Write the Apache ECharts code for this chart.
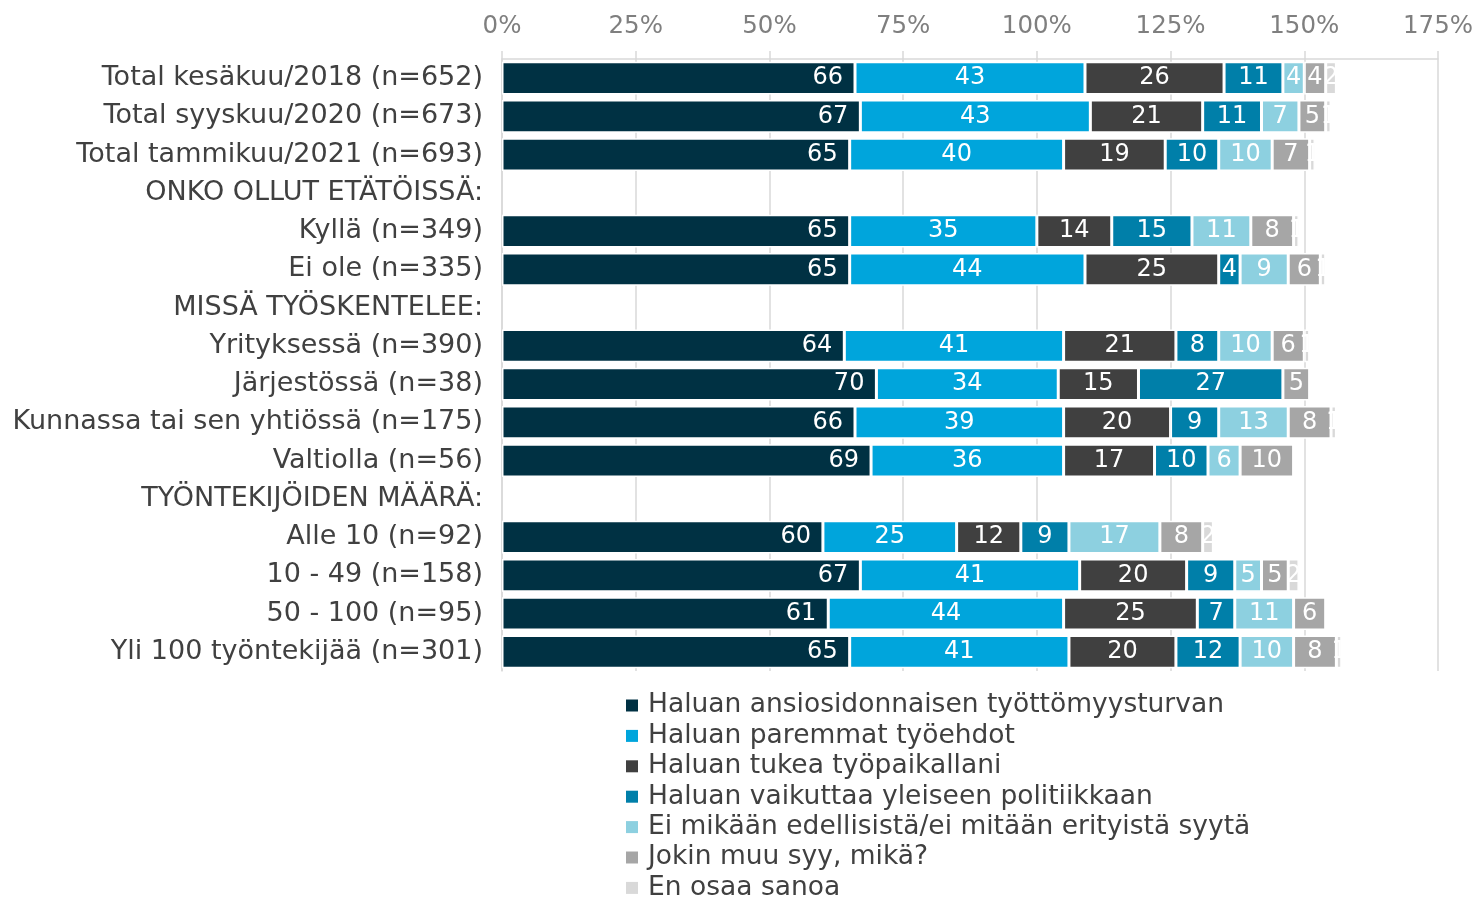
<!DOCTYPE html>
<html lang="fi">
<head>
<meta charset="utf-8">
<title>Syyt liittoon kuulumiseen</title>
<script src="https://cdn.jsdelivr.net/npm/echarts@6/dist/echarts.min.js"></script>
<style>
  html, body { margin: 0; padding: 0; background: #fff; }
  #main { width: 1478px; height: 897px; }
</style>
</head>
<body>
<div id="main"></div>
<script>
// rivit (otsikkorivit ilman arvoja)
var categories = [
  'Total kesäkuu/2018 (n=652)',
  'Total syyskuu/2020 (n=673)',
  'Total tammikuu/2021 (n=693)',
  'ONKO OLLUT ETÄTÖISSÄ:',
  'Kyllä (n=349)',
  'Ei ole (n=335)',
  'MISSÄ TYÖSKENTELEE:',
  'Yrityksessä (n=390)',
  'Järjestössä (n=38)',
  'Kunnassa tai sen yhtiössä (n=175)',
  'Valtiolla (n=56)',
  'TYÖNTEKIJÖIDEN MÄÄRÄ:',
  'Alle 10 (n=92)',
  '10 - 49 (n=158)',
  '50 - 100 (n=95)',
  'Yli 100 työntekijää (n=301)'
];

var seriesNames = [
  'Haluan ansiosidonnaisen työttömyysturvan',
  'Haluan paremmat työehdot',
  'Haluan tukea työpaikallani',
  'Haluan vaikuttaa yleiseen politiikkaan',
  'Ei mikään edellisistä/ei mitään erityistä syytä',
  'Jokin muu syy, mikä?',
  'En osaa sanoa'
];

var colors = ['#003143', '#00a5dc', '#404040', '#007fa9', '#8dd0e0', '#a6a6a6', '#d9d9d9'];

var ansiosidonnainen = [66, 67, 65, null, 65, 65, null, 64, 70, 66, 69, null, 60, 67, 61, 65];
var tyoehdot         = [43, 43, 40, null, 35, 44, null, 41, 34, 39, 36, null, 25, 41, 44, 41];
var tukea            = [26, 21, 19, null, 14, 25, null, 21, 15, 20, 17, null, 12, 20, 25, 20];
var politiikka       = [11, 11, 10, null, 15, 4, null, 8, 27, 9, 10, null, 9, 9, 7, 12];
var eiMikaan         = [4, 7, 10, null, 11, 9, null, 10, null, 13, 6, null, 17, 5, 11, 10];
var muuSyy           = [4, 5, 7, null, 8, 6, null, 6, 5, 8, 10, null, 8, 5, 6, 8];
var eos              = [2, 1, 1, null, 1, 1, null, 1, null, 1, null, null, 2, 2, null, 1];

var values = [ansiosidonnainen, tyoehdot, tukea, politiikka, eiMikaan, muuSyy, eos];

var font = 'DejaVu Sans, Verdana, sans-serif';

var series = seriesNames.map(function (name, i) {
  return {
    name: name,
    type: 'bar',
    stack: 'total',
    barCategoryGap: '14%',
    data: values[i],
    itemStyle: { color: colors[i], borderColor: '#fff', borderWidth: 1.5 },
    label: {
      show: true,
      position: i === 0 ? 'insideRight' : 'inside',
      distance: 12,
      color: '#fff',
      fontFamily: font,
      fontSize: 24
    },
    emphasis: { disabled: true }
  };
});

var myChart = echarts.init(document.getElementById('main'));
var option = {
  animation: false,
  textStyle: { fontFamily: font },
  grid: { left: 502, right: 40, top: 59, bottom: 226, containLabel: false },
  legend: {
    orient: 'vertical',
    left: 621,
    top: 687,
    height: 260,
    icon: 'rect',
    itemWidth: 12,
    itemHeight: 12,
    itemGap: 3.4,
    selectedMode: false,
    itemStyle: { borderWidth: 0 },
    textStyle: { color: '#404040', fontSize: 26.5, lineHeight: 26, fontFamily: font, padding: [0, 0, 0, 5] },
    data: seriesNames
  },
  xAxis: {
    type: 'value',
    position: 'top',
    min: 0,
    max: 175,
    interval: 25,
    axisLine: { show: true, lineStyle: { color: '#d9d9d9', width: 1.5 } },
    axisTick: { show: true, length: 8, lineStyle: { color: '#d9d9d9', width: 1.5 } },
    splitLine: { show: true, lineStyle: { color: '#d9d9d9', width: 1.5 } },
    axisLabel: { formatter: '{value}%', color: '#7f7f7f', fontSize: 24.5, margin: 20, fontFamily: font }
  },
  yAxis: {
    type: 'category',
    inverse: true,
    data: categories,
    axisLine: { show: true, lineStyle: { color: '#d9d9d9', width: 1.5 } },
    axisTick: { show: false },
    axisLabel: { color: '#404040', fontSize: 27, margin: 19, fontFamily: font }
  },
  series: series
};
myChart.setOption(option);
window.onresize = myChart.resize;
</script>
</body>
</html>
